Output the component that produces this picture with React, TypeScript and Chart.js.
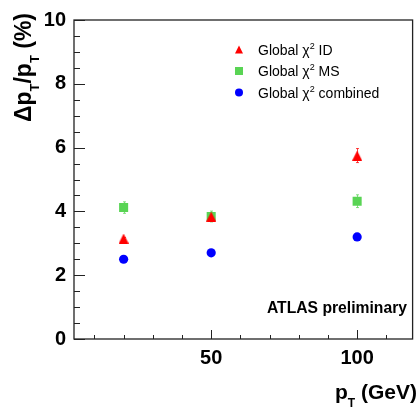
import React, { useEffect, useRef } from 'react';
import { Chart, registerables } from 'chart.js';

Chart.register(...registerables);

// ---- data ----
const pT = [20, 50, 100];
const idValues = [3.15, 3.84, 5.75];
const idErrors = [0.03, 0.03, 0.22];
const msValues = [4.12, 3.84, 4.32];
const msErrors = [0.18, 0.17, 0.2];
const combValues = [2.5, 2.7, 3.2];
const combErrors = [0.04, 0.04, 0.05];
const seriesNames = ['ID', 'MS', 'combined'];
const xTickValues = [50, 100];
const yTickStep = 2;

const RED = '#ff0000';
const GREEN = '#59d454';
const BLUE = '#0000ff';
const FONT = '"Liberation Sans", Arial, Helvetica, sans-serif';

type Part = { t: string; size: number; dy: number; bold?: boolean };

function partsWidth(ctx: CanvasRenderingContext2D, parts: Part[]) {
  let w = 0;
  for (const p of parts) {
    ctx.font = `${p.bold ? 'bold ' : ''}${p.size}px ${FONT}`;
    w += ctx.measureText(p.t).width;
  }
  return w;
}

function drawParts(ctx: CanvasRenderingContext2D, parts: Part[], x: number, y: number, align: 'left' | 'right') {
  let cx = align === 'right' ? x - partsWidth(ctx, parts) : x;
  ctx.textAlign = 'left';
  ctx.textBaseline = 'alphabetic';
  for (const p of parts) {
    ctx.font = `${p.bold ? 'bold ' : ''}${p.size}px ${FONT}`;
    ctx.fillText(p.t, cx, y + p.dy);
    cx += ctx.measureText(p.t).width;
  }
}

function makeTriangle(size: number, color: string) {
  const c = document.createElement('canvas');
  c.width = size;
  c.height = size;
  const g = c.getContext('2d')!;
  g.fillStyle = color;
  g.beginPath();
  g.moveTo(size / 2, 0);
  g.lineTo(size, size);
  g.lineTo(0, size);
  g.closePath();
  g.fill();
  return c;
}

function drawMarker(ctx: CanvasRenderingContext2D, kind: string, color: string, x: number, y: number, s: number) {
  ctx.fillStyle = color;
  ctx.beginPath();
  if (kind === 'tri') {
    ctx.moveTo(x, y - s / 2);
    ctx.lineTo(x + s / 2, y + s / 2);
    ctx.lineTo(x - s / 2, y + s / 2);
    ctx.closePath();
  } else if (kind === 'rect') {
    ctx.rect(x - s / 2, y - s / 2, s, s);
  } else {
    ctx.arc(x, y, s / 2, 0, Math.PI * 2);
  }
  ctx.fill();
}

const decorPlugin = {
  id: 'atlasDecor',
  beforeDatasetsDraw(chart: any) {
    const ctx = chart.ctx as CanvasRenderingContext2D;
    const xs = chart.scales.x;
    const ys = chart.scales.y;
    ctx.save();
    chart.data.datasets.forEach((ds: any) => {
      ctx.strokeStyle = ds.errorColor;
      ctx.lineWidth = 1;
      ds.data.forEach((pt: any, i: number) => {
        const e = ds.errors[i];
        const px = Math.round(xs.getPixelForValue(pt.x)) + 0.5;
        const y1 = ys.getPixelForValue(pt.y + e);
        const y2 = ys.getPixelForValue(pt.y - e);
        ctx.beginPath();
        ctx.moveTo(px, y1);
        ctx.lineTo(px, y2);
        ctx.moveTo(px - 1.5, y1);
        ctx.lineTo(px + 1.5, y1);
        ctx.moveTo(px - 1.5, y2);
        ctx.lineTo(px + 1.5, y2);
        ctx.stroke();
      });
    });
    ctx.restore();
  },
  afterDraw(chart: any) {
    const ctx = chart.ctx as CanvasRenderingContext2D;
    const { left, right, top, bottom } = chart.chartArea;
    const xs = chart.scales.x;
    const ys = chart.scales.y;
    ctx.save();
    // frame
    ctx.strokeStyle = '#222';
    ctx.lineWidth = 1.3;
    ctx.strokeRect(left, top, right - left, bottom - top);
    // y ticks (inside)
    ctx.lineWidth = 1;
    ctx.beginPath();
    for (let v = ys.min; v <= ys.max + 1e-9; v += 0.5) {
      const py = Math.round(ys.getPixelForValue(v)) + 0.5;
      const major = Math.abs(v / yTickStep - Math.round(v / yTickStep)) < 1e-6;
      ctx.moveTo(left, py);
      ctx.lineTo(left + (major ? 11 : 6), py);
    }
    // x ticks (inside)
    for (let v = 10; v < xs.max; v += 10) {
      const px = Math.round(xs.getPixelForValue(v)) + 0.5;
      const major = xTickValues.includes(v);
      ctx.moveTo(px, bottom);
      ctx.lineTo(px, bottom - (major ? 9 : 4));
    }
    ctx.stroke();

    ctx.fillStyle = '#000';
    // x title
    drawParts(
      ctx,
      [
        { t: 'p', size: 21, dy: 0, bold: true },
        { t: 'T', size: 12, dy: 8, bold: true },
        { t: ' (GeV)', size: 21, dy: 0, bold: true },
      ],
      417,
      399,
      'right'
    );
    // y title
    ctx.save();
    ctx.translate(31, 13);
    ctx.rotate(-Math.PI / 2);
    drawParts(
      ctx,
      [
        { t: '\u0394p', size: 23, dy: 0, bold: true },
        { t: 'T', size: 13, dy: 8, bold: true },
        { t: '/p', size: 23, dy: 0, bold: true },
        { t: 'T', size: 13, dy: 8, bold: true },
        { t: ' (%)', size: 23, dy: 0, bold: true },
      ],
      0,
      0,
      'right'
    );
    ctx.restore();

    // legend
    const rows = [
      { kind: 'tri', color: RED, y: 49.5 },
      { kind: 'rect', color: GREEN, y: 71 },
      { kind: 'circ', color: BLUE, y: 92.5 },
    ];
    rows.forEach((r, i) => {
      drawMarker(ctx, r.kind, r.color, 239, r.y, 8);
      ctx.fillStyle = '#000';
      drawParts(
        ctx,
        [
          { t: 'Global ', size: 14, dy: 0 },
          { t: '\u03c7', size: 14, dy: 0 },
          { t: '2', size: 9, dy: -6 },
          { t: ' ' + seriesNames[i], size: 14, dy: 0 },
        ],
        258,
        r.y + 5,
        'left'
      );
    });

    // ATLAS label
    ctx.fillStyle = '#000';
    drawParts(ctx, [{ t: 'ATLAS preliminary', size: 15.7, dy: 0, bold: true }], 407, 312.5, 'right');
    ctx.restore();
  },
};

export default function App() {
  const ref = useRef<HTMLCanvasElement | null>(null);
  useEffect(() => {
    if (!ref.current) return;
    const tri = makeTriangle(10, RED);
    const toPts = (vals: number[]) => pT.map((x, i) => ({ x, y: vals[i] }));
    const chart = new Chart(ref.current, {
      type: 'scatter',
      data: {
        datasets: [
          {
            label: 'Global \u03c7\u00b2 ' + seriesNames[0],
            data: toPts(idValues),
            pointStyle: tri as any,
            pointRadius: 5,
            backgroundColor: RED,
            borderWidth: 0,
            errors: idErrors,
            errorColor: 'rgba(255,0,0,0.75)',
          } as any,
          {
            label: 'Global \u03c7\u00b2 ' + seriesNames[1],
            data: toPts(msValues),
            pointStyle: 'rect',
            pointRadius: 6.4,
            backgroundColor: GREEN,
            borderWidth: 0,
            errors: msErrors,
            errorColor: 'rgba(89,212,84,0.75)',
          } as any,
          {
            label: 'Global \u03c7\u00b2 ' + seriesNames[2],
            data: toPts(combValues),
            pointStyle: 'circle',
            pointRadius: 4.6,
            backgroundColor: BLUE,
            borderWidth: 0,
            errors: combErrors,
            errorColor: 'rgba(0,0,255,0.75)',
          } as any,
        ],
      },
      options: {
        animation: false,
        responsive: false,
        layout: { padding: { top: 16, right: 3, left: 0, bottom: 0 } },
        plugins: { legend: { display: false }, tooltip: { enabled: false } },
        scales: {
          x: {
            type: 'linear',
            min: 3,
            max: 119,
            afterBuildTicks: (s: any) => {
              s.ticks = xTickValues.map((v) => ({ value: v }));
            },
            afterFit: (s: any) => {
              s.height = 73;
            },
            ticks: {
              autoSkip: false,
              maxRotation: 0,
              padding: 7,
              color: '#000',
              font: { family: FONT, size: 20, weight: 'bold' },
            },
            grid: { display: false, drawTicks: false },
            border: { display: false },
          },
          y: {
            min: 0,
            max: 10,
            afterFit: (s: any) => {
              s.width = 74;
            },
            ticks: {
              stepSize: yTickStep,
              padding: 8,
              color: '#000',
              font: { family: FONT, size: 20, weight: 'bold' },
            },
            grid: { display: false, drawTicks: false },
            border: { display: false },
          },
        },
      },
      plugins: [decorPlugin],
    });
    return () => chart.destroy();
  }, []);
  return (
    <div style={{ position: 'fixed', left: 0, top: 0, width: 419, height: 412, background: '#fff' }}>
      <canvas ref={ref} width={419} height={412} style={{ display: 'block' }} />
    </div>
  );
}
